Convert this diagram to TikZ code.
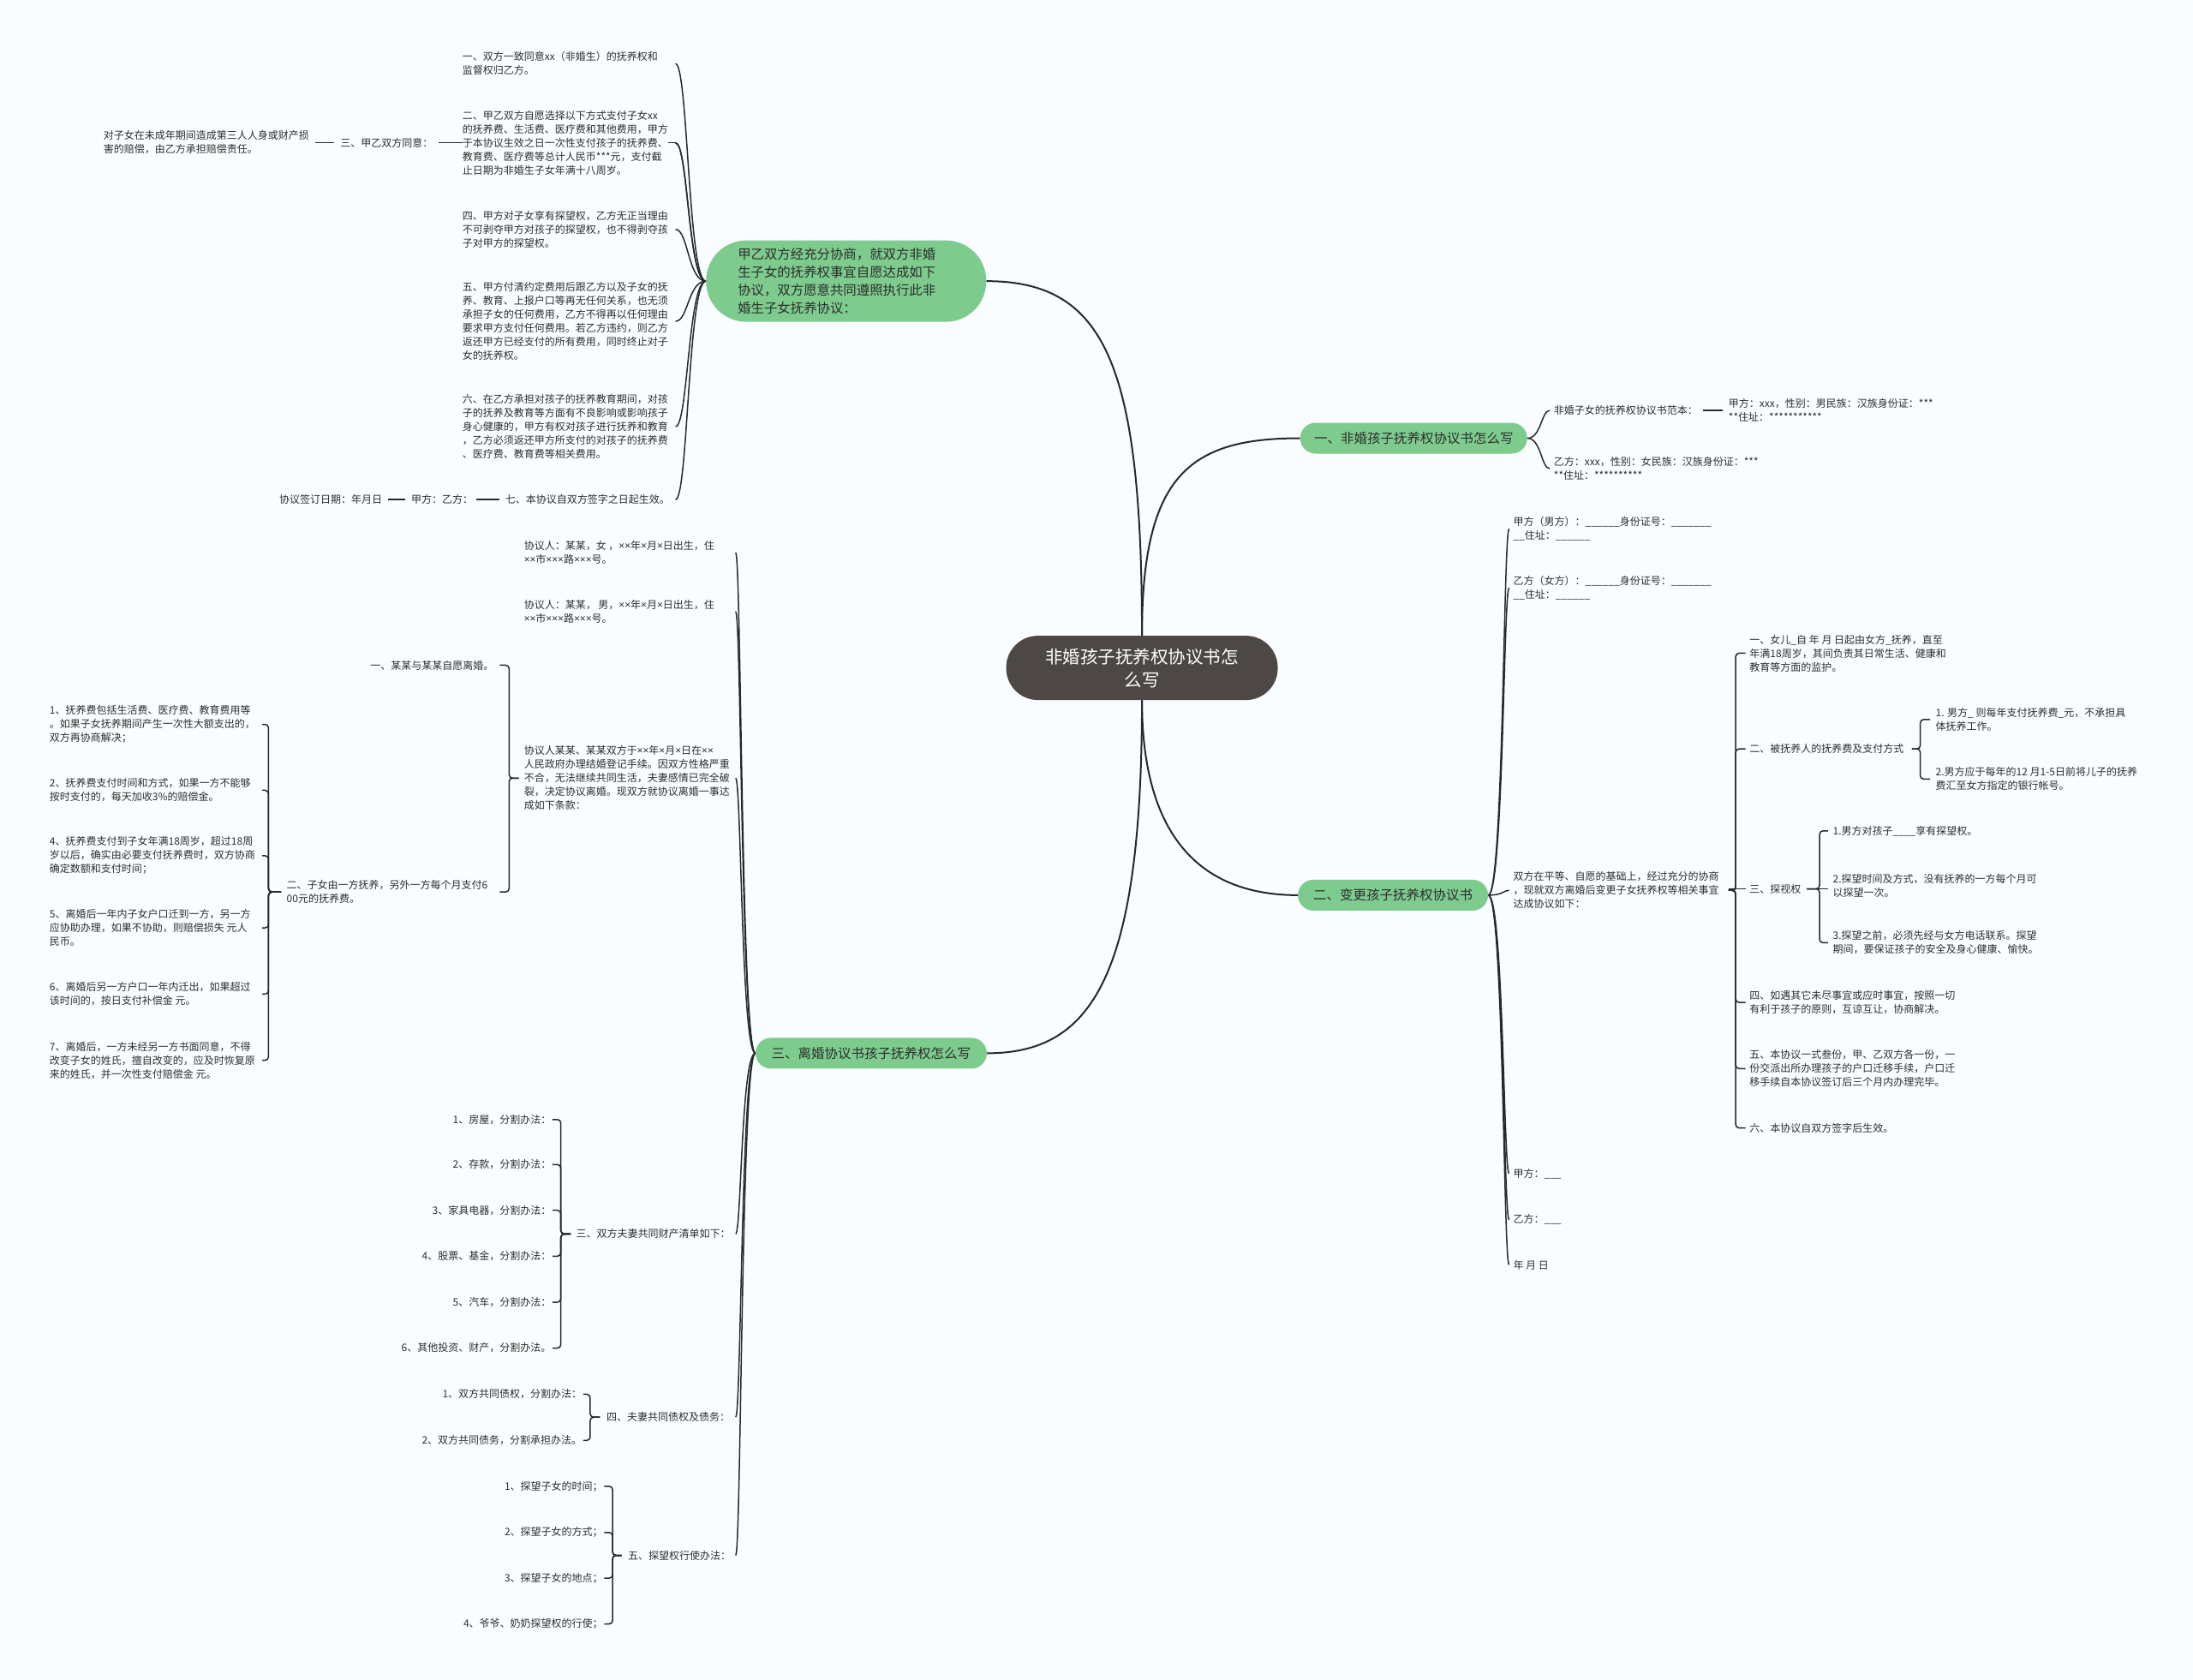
\documentclass[tikz,border=0pt]{standalone}
\usepackage{fontspec}
\newfontfamily\cjk{Noto Sans CJK SC}
\newfontfamily\latn{Noto Sans}
\newcommand\xm{{\latn ×}}
\definecolor{bgc}{RGB}{250,253,255}
\definecolor{grn}{RGB}{126,203,142}
\definecolor{rootc}{RGB}{77,72,70}
\definecolor{txt}{RGB}{45,45,45}
\definecolor{lnc}{RGB}{40,40,40}
\pgfdeclarelayer{bgl}
\pgfdeclarelayer{edges}
\pgfsetlayers{bgl,edges,main}
\tikzset{
  leaf/.style={inner sep=0pt, outer sep=0pt, align=left, text=txt, fill=bgc, font=\cjk\fontsize{12pt}{16pt}\selectfont},
  leafr/.style={leaf, align=right, anchor=east},
  leafl/.style={leaf, anchor=west},
  gn/.style={fill=grn, text=txt, rounded corners=18pt, minimum height=36pt, inner sep=0pt, font=\cjk\fontsize{15.5pt}{20pt}\selectfont},
  gonen/.style={fill=grn, text=txt, rounded corners=47pt, minimum width=327pt, minimum height=95pt, text width=253pt, inner xsep=37pt, inner ysep=0pt, align=left, font=\cjk\fontsize{15.4pt}{20.7pt}\selectfont},
  rootn/.style={fill=rootc, text=white, rounded corners=37pt, minimum width=317pt, minimum height=75pt, inner sep=0pt, align=center, font=\cjk\fontsize{20.5pt}{27pt}\selectfont},
  conn/.style={draw=lnc, line width=1.5pt},
  connz/.style={draw=lnc, line width=2pt}
}
\newcommand\mybez[4]{\path (#3,0) coordinate (bS) (#4,0) coordinate (bE);
  \draw[conn] (#1) .. controls (bS |- #1) and (bS |- #2) .. (bE |- #2);}
\newcommand\mybrace[5]{\path (#3,0) coordinate (bA) (#4,0) coordinate (bS) (#5,0) coordinate (bE);
  \draw[conn, rounded corners=4pt] (bA |- #1) -- (bS |- #1) -- (bS |- #2) -- (bE |- #2);}
\newcommand\mystraight[3]{\path (#2,0) coordinate (bA) (#3,0) coordinate (bE);
  \draw[conn] (bA |- #1) -- (bE |- #1);}
\begin{document}
\begin{tikzpicture}[x=1.6327pt,y=-1.6327pt]
\useasboundingbox (0,0) rectangle (1568,1201);
\begin{pgfonlayer}{bgl}
\fill[bgc] (0,0) rectangle (1568,1201);
\end{pgfonlayer}

% root and main branches
\node[rootn] (root) at (816.5,477.5) {非婚孩子抚养权协议书怎\\么写};
\node[gonen] (g1) at (605,201) {甲乙双方经充分协商，就双方非婚\\生子女的抚养权事宜自愿达成如下\\协议，双方愿意共同遵照执行此非\\婚生子女抚养协议：};
\node[gn, minimum width=265pt] (g2) at (1010.8,313.3) {一、非婚孩子抚养权协议书怎么写};
\node[gn, minimum width=270pt] (g3) at (622.9,753) {三、离婚协议书孩子抚养权怎么写};
\node[gn, minimum width=222pt] (g4) at (996,640) {二、变更孩子抚养权协议书};

% g1 children
\node[leafl] (c1a) at (330.7,45.5) {一、双方一致同意xx（非婚生）的抚养权和\\监督权归乙方。};
\node[leafl] (c1c) at (243.4,102) {三、甲乙双方同意：};
\node[leafl] (c1c1) at (74,102) {对子女在未成年期间造成第三人人身或财产损\\害的赔偿，由乙方承担赔偿责任。};
\node[leafl] (c1d) at (330.7,164) {四、甲方对子女享有探望权，乙方无正当理由\\不可剥夺甲方对孩子的探望权，也不得剥夺孩\\子对甲方的探望权。};
\node[leafl] (c1e) at (330.7,229.7) {五、甲方付清约定费用后跟乙方以及子女的抚\\养、教育、上报户口等再无任何关系，也无须\\承担子女的任何费用，乙方不得再以任何理由\\要求甲方支付任何费用。若乙方违约，则乙方\\返还甲方已经支付的所有费用，同时终止对子\\女的抚养权。};
\node[leafl] (c1f) at (330.7,305) {六、在乙方承担对孩子的抚养教育期间，对孩\\子的抚养及教育等方面有不良影响或影响孩子\\身心健康的，甲方有权对孩子进行抚养和教育\\，乙方必须返还甲方所支付的对孩子的抚养费\\、医疗费、教育费等相关费用。};
\node[leafl] (c1g) at (361.3,357.2) {七、本协议自双方签字之日起生效。};
\node[leafl] (c1g1) at (294,357.2) {甲方：乙方：};
\node[leafl] (c1g2) at (199.7,357.2) {协议签订日期：年月日};

% g3 children
\node[leafl] (c3a) at (374.7,395.2) {协议人：某某，女 ，\xm\xm 年\xm 月\xm 日出生，住\\\xm\xm 市\xm\xm\xm 路\xm\xm\xm 号。};
\node[leafl] (c3b) at (374.7,437.3) {协议人：某某， 男，\xm\xm 年\xm 月\xm 日出生，住\\\xm\xm 市\xm\xm\xm 路\xm\xm\xm 号。};
\node[leafl] (c3c) at (374.7,556.3) {协议人某某、某某双方于\xm\xm 年\xm 月\xm 日在\xm\xm\\人民政府办理结婚登记手续。因双方性格严重\\不合，无法继续共同生活，夫妻感情已完全破\\裂，决定协议离婚。现双方就协议离婚一事达\\成如下条款：};
\node[leafr] (c3c1) at (353,475.6) {一、某某与某某自愿离婚。};
\node[leafl] (c3c2) at (205,637.7) {二、子女由一方抚养，另外一方每个月支付6\\00元的抚养费。};
\node[leafl] (i1) at (35.5,517.9) {1、抚养费包括生活费、医疗费、教育费用等\\。如果子女抚养期间产生一次性大额支出的，\\双方再协商解决；};
\node[leafl] (i2) at (35.5,565) {2、抚养费支付时间和方式，如果一方不能够\\按时支付的，每天加收3\%的赔偿金。};
\node[leafl] (i3) at (35.5,611.8) {4、抚养费支付到子女年满18周岁，超过18周\\岁以后，确实由必要支付抚养费时，双方协商\\确定数额和支付时间；};
\node[leafl] (i4) at (35.5,663.4) {5、离婚后一年内子女户口迁到一方，另一方\\应协助办理，如果不协助，则赔偿损失 元人\\民币。};
\node[leafl] (i5) at (35.5,710.7) {6、离婚后另一方户口一年内迁出，如果超过\\该时间的，按日支付补偿金 元。};
\node[leafl] (i6) at (35.5,758) {7、离婚后，一方未经另一方书面同意，不得\\改变子女的姓氏，擅自改变的，应及时恢复原\\来的姓氏，并一次性支付赔偿金 元。};
\node[leafl] (c3d) at (412,882.2) {三、双方夫妻共同财产清单如下：};
\node[leafr] (p1) at (394,800.4) {1、房屋，分割办法：};
\node[leafr] (p2) at (394,832.6) {2、存款，分割办法：};
\node[leafr] (p3) at (394,865.3) {3、家具电器，分割办法：};
\node[leafr] (p4) at (394,898.1) {4、股票、基金，分割办法：};
\node[leafr] (p5) at (394,931) {5、汽车，分割办法：};
\node[leafr] (p6) at (394,963.8) {6、其他投资、财产，分割办法。};
\node[leafl] (c3e) at (433.7,1013.2) {四、夫妻共同债权及债务：};
\node[leafr] (q1) at (416,996.8) {1、双方共同债权，分割办法：};
\node[leafr] (q2) at (416,1029.8) {2、双方共同债务，分割承担办法。};
\node[leafl] (c3f) at (449,1112) {五、探望权行使办法：};
\node[leafr] (r1) at (431,1062.6) {1、探望子女的时间；};
\node[leafr] (r2) at (431,1095.6) {2、探望子女的方式；};
\node[leafr] (r3) at (431,1128.3) {3、探望子女的地点；};
\node[leafr] (r4) at (431,1161) {4、爷爷、奶奶探望权的行使；};

% g2 children
\node[leafl] (c2a) at (1111,293.5) {非婚子女的抚养权协议书范本：};
\node[leafl] (c2a1) at (1236,293.5) {甲方：xxx，性别：男民族：汉族身份证：***\\**住址：***********};
\node[leafl] (c2b) at (1111,335) {乙方：xxx，性别：女民族：汉族身份证：***\\**住址：**********};

% g4 children
\node[leafl] (c4a) at (1082,378) {甲方（男方）：\_\_\_\_\_\_身份证号：\_\_\_\_\_\_\_\\\_\_住址：\_\_\_\_\_\_};
\node[leafl] (c4b) at (1082,420.3) {乙方（女方）：\_\_\_\_\_\_身份证号：\_\_\_\_\_\_\_\\\_\_住址：\_\_\_\_\_\_};
\node[leafl] (c4c) at (1082,636.5) {双方在平等、自愿的基础上，经过充分的协商\\，现就双方离婚后变更子女抚养权等相关事宜\\达成协议如下：};
\node[leafl] (c4d) at (1082,839) {甲方：\_\_\_};
\node[leafl] (c4e) at (1082,872) {乙方：\_\_\_};
\node[leafl] (c4f) at (1082,904.3) {年 月 日};
\node[leafl] (c4c1) at (1251,467) {一、女儿\_自 年 月 日起由女方\_抚养，直至\\年满18周岁，其间负责其日常生活、健康和\\教育等方面的监护。};
\node[leafl] (c4c2) at (1251,535.4) {二、被抚养人的抚养费及支付方式};
\node[leafl] (d1) at (1384,514.4) {1. 男方\_ 则每年支付抚养费\_元，不承担具\\体抚养工作。};
\node[leafl] (d2) at (1384,557) {2.男方应于每年的12 月1-5日前将儿子的抚养\\费汇至女方指定的银行帐号。};
\node[leafl] (c4c3) at (1251,635.5) {三、探视权};
\node[leafl] (e1) at (1310.5,594) {1.男方对孩子\_\_\_\_享有探望权。};
\node[leafl] (e2) at (1310.5,633) {2.探望时间及方式，没有抚养的一方每个月可\\以探望一次。};
\node[leafl] (e3) at (1310.5,674) {3.探望之前，必须先经与女方电话联系。探望\\期间，要保证孩子的安全及身心健康、愉快。};
\node[leafl] (c4c4) at (1251,716.7) {四、如遇其它未尽事宜或应时事宜，按照一切\\有利于孩子的原则，互谅互让，协商解决。};
\node[leafl] (c4c5) at (1251,764) {五、本协议一式叁份，甲、乙双方各一份，一\\份交派出所办理孩子的户口迁移手续，户口迁\\移手续自本协议签订后三个月内办理完毕。};
\node[leafl] (c4c6) at (1251,806.4) {六、本协议自双方签字后生效。};

\begin{pgfonlayer}{edges}
% root curves
\draw[connz] (root.north) .. controls (816.5,260) and (790,201) .. (g1.east);
\draw[connz] (root.north) .. controls (816.5,340) and (850,313.3) .. (g2.west);
\draw[connz] (root.south) .. controls (816.5,700) and (780,753) .. (g3.east);
\draw[connz] (root.south) .. controls (816.5,600) and (860,640) .. (g4.west);

% g1
\mybez{g1.west}{c1a.east}{492}{483}
\mybez{g1.west}{c1c.east}{492}{483}
\path (483,0) coordinate (qq);
\draw[conn] (qq |- c1c.east) -- ([xshift=7pt]c1c.east);
\mybez{g1.west}{c1d.east}{492}{483}
\mybez{g1.west}{c1e.east}{492}{483}
\mybez{g1.west}{c1f.east}{492}{483}
\mybez{g1.west}{c1g.east}{492}{483}
\draw[conn] ([xshift=7pt]c1c1.east) -- ([xshift=-7pt]c1c.west);
\draw[conn] ([xshift=7pt]c1g2.east) -- ([xshift=-7pt]c1g1.west);
\draw[conn] ([xshift=4pt]c1g1.east) -- ([xshift=-7pt]c1g.west);

% g3
\mybez{g3.west}{c3a.east}{530}{526}
\mybez{g3.west}{c3b.east}{530}{526}
\mybez{g3.west}{c3c.east}{530}{526}
\mybez{g3.west}{c3d.east}{530}{526}
\mybez{g3.west}{c3e.east}{530}{526}
\mybez{g3.west}{c3f.east}{530}{526}
\mybrace{c3c.west}{c3c1.east}{371}{364}{357.3}
\mybrace{c3c.west}{c3c2.east}{371}{364}{357.3}
\mybrace{c3c2.west}{i1.east}{201}{192}{187.5}
\mybrace{c3c2.west}{i2.east}{201}{192}{187.5}
\mybrace{c3c2.west}{i3.east}{201}{192}{187.5}
\mybrace{c3c2.west}{i4.east}{201}{192}{187.5}
\mybrace{c3c2.west}{i5.east}{201}{192}{187.5}
\mybrace{c3c2.west}{i6.east}{201}{192}{187.5}
\mybrace{c3d.west}{p1.east}{408}{401}{395}
\mybrace{c3d.west}{p2.east}{408}{401}{395}
\mybrace{c3d.west}{p3.east}{408}{401}{395}
\mybrace{c3d.west}{p4.east}{408}{401}{395}
\mybrace{c3d.west}{p5.east}{408}{401}{395}
\mybrace{c3d.west}{p6.east}{408}{401}{395}
\mybrace{c3e.west}{q1.east}{429}{422}{417}
\mybrace{c3e.west}{q2.east}{429}{422}{417}
\mybrace{c3f.west}{r1.east}{444.5}{438}{432}
\mybrace{c3f.west}{r2.east}{444.5}{438}{432}
\mybrace{c3f.west}{r3.east}{444.5}{438}{432}
\mybrace{c3f.west}{r4.east}{444.5}{438}{432}

% g2
\mybez{g2.east}{c2a.west}{1102}{1108}
\mybez{g2.east}{c2b.west}{1102}{1108}
\draw[conn] ([xshift=6pt]c2a.east) -- ([xshift=-7pt]c2a1.west);

% g4
\mybez{g4.east}{c4a.west}{1075}{1079}
\mybez{g4.east}{c4b.west}{1075}{1079}
\mybez{g4.east}{c4c.west}{1075}{1079}
\mybez{g4.east}{c4d.west}{1075}{1079}
\mybez{g4.east}{c4e.west}{1075}{1079}
\mybez{g4.east}{c4f.west}{1075}{1079}
\mybrace{c4c.east}{c4c1.west}{1236}{1241}{1248}
\mybrace{c4c.east}{c4c2.west}{1236}{1241}{1248}
\mystraight{c4c3.west}{1236}{1248}
\mybrace{c4c.east}{c4c4.west}{1236}{1241}{1248}
\mybrace{c4c.east}{c4c5.west}{1236}{1241}{1248}
\mybrace{c4c.east}{c4c6.west}{1236}{1241}{1248}
\mybrace{c4c2.east}{d1.west}{1367}{1373}{1380}
\mybrace{c4c2.east}{d2.west}{1367}{1373}{1380}
\mybrace{c4c3.east}{e1.west}{1292}{1301}{1307}
\mystraight{c4c3.east}{1292}{1307}
\mybrace{c4c3.east}{e3.west}{1292}{1301}{1307}
\end{pgfonlayer}

% node that sits over the 三 connector
\node[leafl] (c1b) at (330.7,102.3) {二、甲乙双方自愿选择以下方式支付子女xx\\的抚养费、生活费、医疗费和其他费用，甲方\\于本协议生效之日一次性支付孩子的抚养费、\\教育费、医疗费等总计人民币***元，支付截\\止日期为非婚生子女年满十八周岁。};
\begin{pgfonlayer}{edges}
\mybez{g1.west}{c1b.east}{492}{483}
\end{pgfonlayer}
\end{tikzpicture}
\end{document}
